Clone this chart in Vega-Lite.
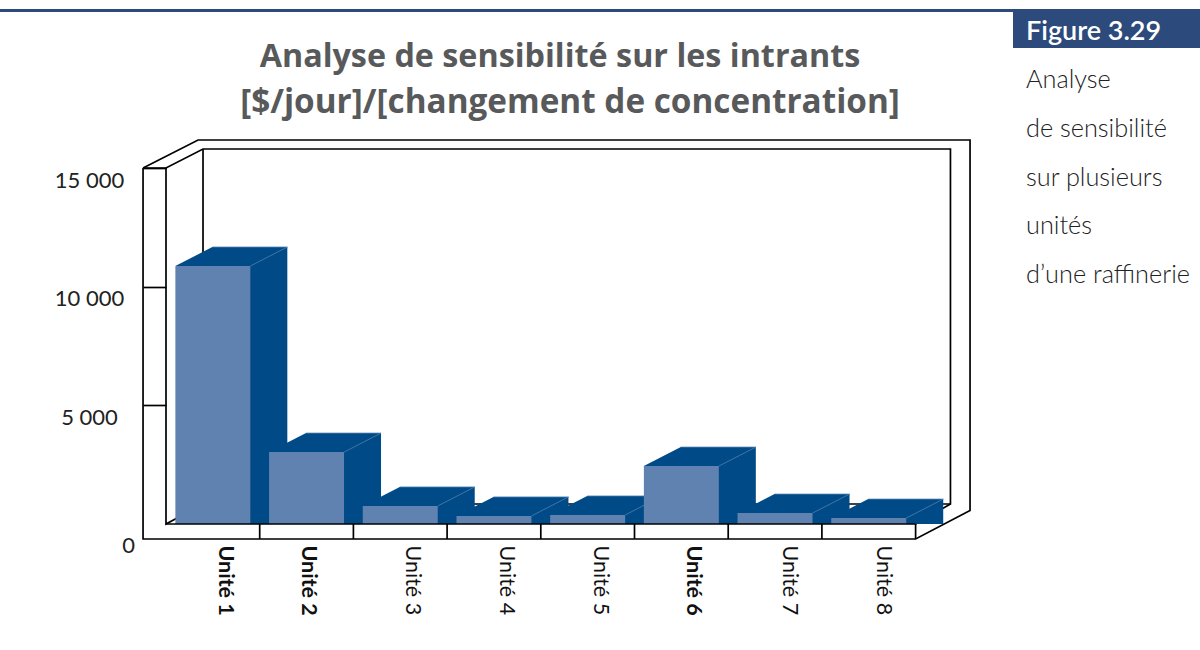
{
"$schema":"https://vega.github.io/schema/vega-lite/v6.json",
"width":1200,"height":650,"autosize":"none","padding":0,
"background":"white",
"title":{"text":"Analyse de sensibilité sur les intrants","anchor":"middle","frame":"group","dx":-40,"dy":99,"offset":0,"font":"Open Sans","fontSize":32.3,"fontWeight":"bold","color":"#58595b","baseline":"alphabetic"},
"config":{"view":{"stroke":null},"axis":{"grid":false}},
"datasets":{
"units":[{"unit":"Unité 1","value":10870},{"unit":"Unité 2","value":3030},{"unit":"Unité 3","value":760},{"unit":"Unité 4","value":340},{"unit":"Unité 5","value":380},{"unit":"Unité 6","value":2440},{"unit":"Unité 7","value":460},{"unit":"Unité 8","value":250}],
"frameBack":[
{"g":"outer","o":1,"u":-0.245,"v":15000},{"g":"outer","o":2,"u":0.342,"v":16180},{"g":"outer","o":3,"u":8.581,"v":16180},{"g":"outer","o":4,"u":8.581,"v":569},{"g":"outer","o":5,"u":8,"v":-632},{"g":"outer","o":6,"u":-0.245,"v":-632},{"g":"outer","o":7,"u":-0.245,"v":15000},
{"g":"inner","o":1,"u":-0.245,"v":15000},{"g":"inner","o":2,"u":0,"v":15000},{"g":"inner","o":3,"u":0.395,"v":15800},{"g":"inner","o":4,"u":8.372,"v":15800},{"g":"inner","o":5,"u":8.372,"v":843},{"g":"inner","o":6,"u":8,"v":0},
{"g":"left","o":1,"u":0,"v":15000},{"g":"left","o":2,"u":0,"v":0},{"g":"left","o":3,"u":0.395,"v":843},{"g":"left","o":4,"u":0.395,"v":15800},
{"g":"floor","o":1,"u":0.395,"v":843},{"g":"floor","o":2,"u":8.372,"v":843},
{"g":"edge","o":1,"u":8,"v":0},{"g":"edge","o":2,"u":8,"v":-632}
],
"frameFront":[
{"g":"front","o":1,"u":0,"v":0},{"g":"front","o":2,"u":8,"v":0},
{"g":"s1","o":1,"u":1,"v":0},{"g":"s1","o":2,"u":1,"v":-632},
{"g":"s2","o":1,"u":2,"v":0},{"g":"s2","o":2,"u":2,"v":-632},
{"g":"s3","o":1,"u":3,"v":0},{"g":"s3","o":2,"u":3,"v":-632},
{"g":"s4","o":1,"u":4,"v":0},{"g":"s4","o":2,"u":4,"v":-632},
{"g":"s5","o":1,"u":5,"v":0},{"g":"s5","o":2,"u":5,"v":-632},
{"g":"s6","o":1,"u":6,"v":0},{"g":"s6","o":2,"u":6,"v":-632},
{"g":"s7","o":1,"u":7,"v":0},{"g":"s7","o":2,"u":7,"v":-632}
],
"side":[{"line":1,"text":"Analyse"},{"line":2,"text":"de sensibilité"},{"line":3,"text":"sur plusieurs"},{"line":4,"text":"unités"},{"line":5,"text":"d’une raffinerie"}]
},
"layer":[
{"data":{"name":"frameBack"},"mark":{"type":"line","color":"#000000","strokeWidth":1.7,"strokeJoin":"miter"},
 "encoding":{"x":{"field":"u","type":"quantitative","scale":{"domain":[0,8],"range":[166,915.6],"nice":false,"zero":false},"axis":null},
 "y":{"field":"v","type":"quantitative","scale":{"domain":[0,15000],"range":[524,168],"nice":false},"axis":null},
 "detail":{"field":"g"},"order":{"field":"o"}}},
{"data":{"name":"units"},"mark":{"type":"bar","xOffset":37,"yOffset":-19,"color":"#004b87"},
 "encoding":{"x":{"field":"unit","type":"nominal","sort":null,"scale":{"range":[166,915.6],"paddingInner":0.2,"paddingOuter":0.1},"axis":null},
 "y":{"field":"value","type":"quantitative","scale":{"domain":[0,15000],"range":[524,168],"nice":false},"axis":null},"y2":{"datum":0}}},
{"data":{"name":"units"},"mark":{"type":"point","shape":"M-37.5,0L37.5,0L74.5,-19L-0.5,-19Z","size":4,"filled":true,"fill":"#004b87","opacity":1,"strokeWidth":0},
 "encoding":{"x":{"field":"unit","type":"nominal","sort":null,"scale":{"range":[166,915.6],"paddingInner":0.2,"paddingOuter":0.1},"axis":null},
 "y":{"field":"value","type":"quantitative","scale":{"domain":[0,15000],"range":[524,168],"nice":false},"axis":null}}},
{"data":{"name":"units"},"mark":{"type":"point","shape":"M37.5,0L37.5,-19L74.5,-19Z","size":4,"filled":true,"fill":"#004b87","opacity":1,"strokeWidth":0},
 "encoding":{"x":{"field":"unit","type":"nominal","sort":null,"scale":{"range":[166,915.6],"paddingInner":0.2,"paddingOuter":0.1},"axis":null},
 "y":{"datum":0,"type":"quantitative","scale":{"domain":[0,15000],"range":[524,168],"nice":false},"axis":null}}},
{"data":{"name":"units"},"mark":{"type":"point","shape":"M-0.5,-19L74.5,-19L37.5,0","size":4,"filled":false,"stroke":"#4f7fae","opacity":1,"strokeWidth":0.8},
 "encoding":{"x":{"field":"unit","type":"nominal","sort":null,"scale":{"range":[166,915.6],"paddingInner":0.2,"paddingOuter":0.1},"axis":null},
 "y":{"field":"value","type":"quantitative","scale":{"domain":[0,15000],"range":[524,168],"nice":false},"axis":null}}},
{"data":{"name":"units"},"mark":{"type":"bar","color":"#6082b0"},
 "encoding":{"x":{"field":"unit","type":"nominal","sort":null,"scale":{"range":[166,915.6],"paddingInner":0.2,"paddingOuter":0.1},
  "axis":{"title":null,"orient":"bottom","offset":-111,"domain":false,"ticks":false,"labelAngle":90,"labelAlign":"left","labelBaseline":"middle","labelPadding":6,"labelFont":"Lato","labelFontSize":21.5,"labelColor":"#111111","labelFontWeight":{"condition":{"test":"indexof(['Unité 1','Unité 2','Unité 6'],datum.value)>=0","value":"bold"},"value":"normal"},
  "encoding":{"labels":{"dy":{"condition":[{"test":"datum.value==='Unité 2'","value":-1},{"test":"datum.value==='Unité 7'||datum.value==='Unité 8'","value":-14}],"value":-12}}}}},
 "y":{"field":"value","type":"quantitative","scale":{"domain":[0,15000],"range":[524,168],"nice":false},
  "axis":{"title":null,"orient":"left","offset":-166,"values":[0,5000,10000,15000],"domain":false,"tickSize":23,"tickWidth":1.7,"tickColor":"#000000","tickOpacity":{"condition":{"test":"datum.value===0","value":0},"value":1},"labelAlign":"center","labelPadding":54,"labelFont":"Lato","labelFontSize":22,"labelColor":"#222222","labelExpr":"replace(format(datum.value,'d'),/(\\d)(\\d{3})$/,'$1 $2')",
  "encoding":{"labels":{"dx":{"condition":{"test":"datum.value===0","value":39},"value":0},"dy":{"condition":{"test":"datum.value===0","value":21},"value":12}}}}},"y2":{"datum":0}}},
{"data":{"name":"frameFront"},"mark":{"type":"line","color":"#000000","strokeWidth":1.7},
 "encoding":{"x":{"field":"u","type":"quantitative","scale":{"domain":[0,8],"range":[166,915.6],"nice":false,"zero":false},"axis":null},
 "y":{"field":"v","type":"quantitative","scale":{"domain":[0,15000],"range":[524,168],"nice":false},"axis":null},
 "detail":{"field":"g"},"order":{"field":"o"}}},
{"data":{"values":[{"figure":"Figure 3.29"}]},"mark":{"type":"rule","color":"#2c4a7c","strokeWidth":3},"encoding":{"x":{"value":0},"x2":{"value":1013},"y":{"value":10.5}}},
{"data":{"values":[{"figure":"Figure 3.29"}]},"mark":{"type":"rect","color":"#2c4a7c"},"encoding":{"x":{"value":1013},"x2":{"value":1200},"y":{"value":9},"y2":{"value":48}}},
{"data":{"values":[{"figure":"Figure 3.29"}]},"mark":{"type":"text","align":"left","baseline":"alphabetic","font":"Lato","fontSize":27,"fontWeight":600,"color":"#ffffff"},"encoding":{"x":{"value":1026},"y":{"value":40},"text":{"field":"figure"}}},
{"data":{"values":[{"subtitle":"[$/jour]/[changement de concentration]"}]},"mark":{"type":"text","align":"center","baseline":"alphabetic","font":"Open Sans","fontSize":33.3,"fontWeight":"bold","color":"#58595b"},"encoding":{"x":{"value":570},"y":{"value":113},"text":{"field":"subtitle"}}},
{"data":{"name":"side"},"mark":{"type":"text","align":"left","baseline":"alphabetic","font":"Lato","fontSize":25.3,"fontWeight":300,"color":"#222222"},
 "encoding":{"x":{"value":1026},"y":{"field":"line","type":"ordinal","scale":{"type":"point","range":[88,283],"padding":0},"axis":null},"text":{"field":"text"}}}
],
"resolve":{"scale":{"x":"independent","y":"independent"},"axis":{"x":"independent","y":"independent"}}
}
